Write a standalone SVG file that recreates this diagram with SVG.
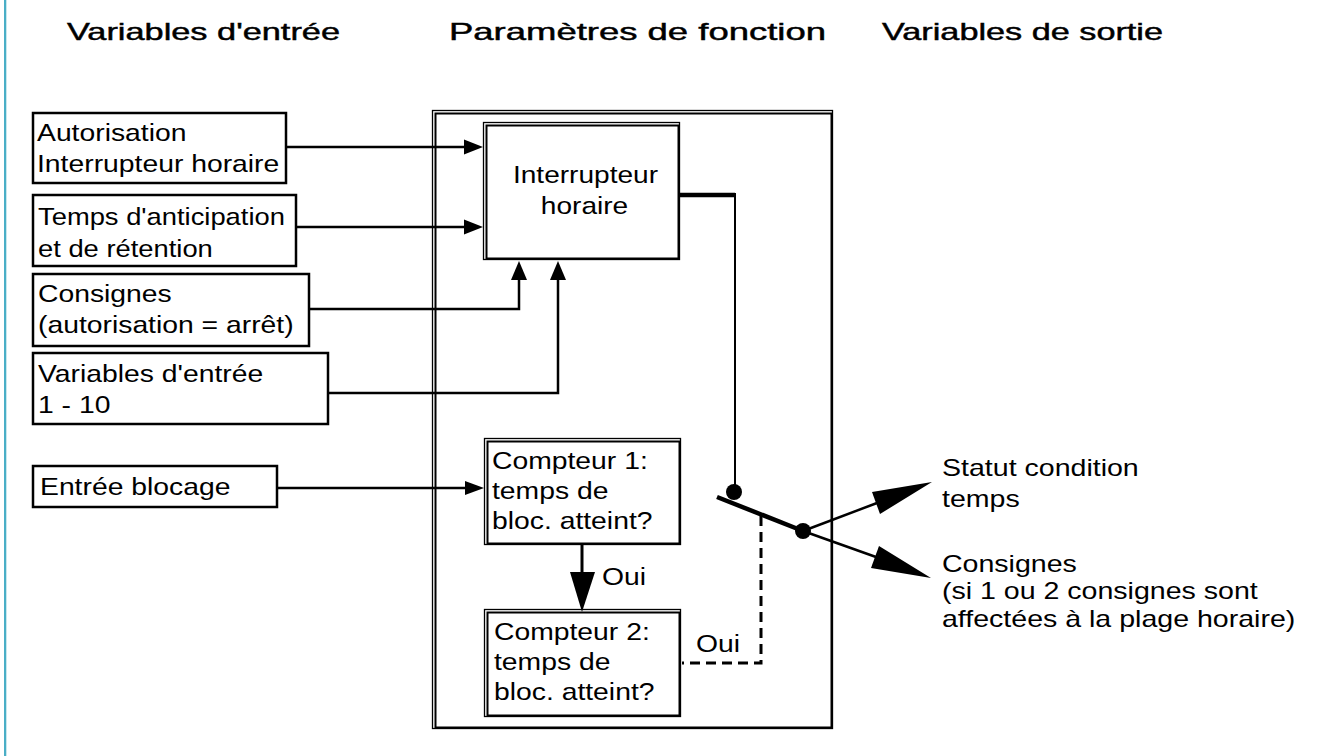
<svg xmlns="http://www.w3.org/2000/svg" width="1327" height="756" viewBox="0 0 1327 756">
<defs>
<style>
.t{font-family:"Liberation Sans",Arial,Helvetica,sans-serif;font-size:24px;fill:#000}
.h{font-family:"Liberation Sans",Arial,Helvetica,sans-serif;font-size:24px;fill:#000;stroke:#000;stroke-width:0.45}
.box{fill:#fff;stroke:#000;stroke-width:2.5}
.o1{fill:none;stroke:#000;stroke-width:1.3}
.o2{fill:none;stroke:#000;stroke-width:2}
.ln{fill:none;stroke:#000;stroke-width:2.5}
.dash{fill:none;stroke:#000;stroke-width:3;stroke-dasharray:10 6}
.ah{fill:#000;stroke:none}
</style>
</defs>
<rect width="1327" height="756" fill="#fff"/>
<rect x="4" y="0" width="2.3" height="756" fill="#4AAEC6"/>

<g id="headings">
<text class="h" x="67" y="40" textLength="273" lengthAdjust="spacingAndGlyphs">Variables d'entrée</text>
<text class="h" x="449" y="40" textLength="377" lengthAdjust="spacingAndGlyphs">Paramètres de fonction</text>
<text class="h" x="882" y="40" textLength="281" lengthAdjust="spacingAndGlyphs">Variables de sortie</text>
</g>

<g id="fonction">
<rect class="o1" x="432.5" y="110.5" width="400" height="618"/>
<rect class="o2" x="435.5" y="113.5" width="396" height="614"/>
</g>

<g id="in1">
<rect class="box" x="33" y="113" width="253" height="70"/>
<text class="t" transform="translate(37,141) scale(1.18,1)">Autorisation</text>
<text class="t" transform="translate(37,172) scale(1.18,1)">Interrupteur horaire</text>
</g>
<g id="in2">
<rect class="box" x="33" y="195" width="263" height="71"/>
<text class="t" transform="translate(38,225) scale(1.14,1)">Temps d'anticipation</text>
<text class="t" transform="translate(38,257) scale(1.14,1)">et de rétention</text>
</g>
<g id="in3">
<rect class="box" x="33" y="274" width="276" height="72"/>
<text class="t" transform="translate(38,302) scale(1.18,1)">Consignes</text>
<text class="t" transform="translate(38,333) scale(1.18,1)">(autorisation = arrêt)</text>
</g>
<g id="in4">
<rect class="box" x="33" y="353" width="295" height="71"/>
<text class="t" transform="translate(38,382) scale(1.18,1)">Variables d'entrée</text>
<text class="t" transform="translate(38,413) scale(1.18,1)">1 - 10</text>
</g>
<g id="in5">
<rect class="box" x="33" y="466" width="244" height="41"/>
<text class="t" transform="translate(40,495) scale(1.18,1)">Entrée blocage</text>
</g>

<g id="interrupteur">
<rect x="483.5" y="122.5" width="196" height="137" fill="#fff" stroke="#000" stroke-width="1.3"/>
<rect class="o2" x="486.5" y="125.5" width="192" height="133"/>
<text class="t" text-anchor="middle" transform="translate(585.5,183) scale(1.17,1)">Interrupteur</text>
<text class="t" text-anchor="middle" transform="translate(584.5,214) scale(1.17,1)">horaire</text>
</g>

<g id="compteur1">
<rect x="484.5" y="438.5" width="196" height="106" fill="#fff" stroke="#000" stroke-width="1.3"/>
<rect class="o2" x="487.5" y="441.5" width="192" height="102"/>
<text class="t" transform="translate(492,469) scale(1.18,1)">Compteur 1:</text>
<text class="t" transform="translate(492,499) scale(1.18,1)">temps de</text>
<text class="t" transform="translate(492,529) scale(1.18,1)">bloc. atteint?</text>
</g>

<g id="compteur2">
<rect x="484.5" y="609.5" width="196" height="107" fill="#fff" stroke="#000" stroke-width="1.3"/>
<rect class="o2" x="487.5" y="612.5" width="192" height="103"/>
<text class="t" transform="translate(494,640) scale(1.18,1)">Compteur 2:</text>
<text class="t" transform="translate(494,670) scale(1.18,1)">temps de</text>
<text class="t" transform="translate(494,700) scale(1.18,1)">bloc. atteint?</text>
</g>

<g id="sorties">
<text class="t" transform="translate(942,476) scale(1.19,1)">Statut condition</text>
<text class="t" transform="translate(942,507) scale(1.19,1)">temps</text>
<text class="t" transform="translate(942,572) scale(1.19,1)">Consignes</text>
<text class="t" transform="translate(942,599) scale(1.19,1)">(si 1 ou 2 consignes sont</text>
<text class="t" transform="translate(942,627) scale(1.19,1)">affectées à la plage horaire)</text>
</g>

<g id="connectors">
<line class="ln" x1="286" y1="147" x2="466" y2="147"/>
<polygon class="ah" points="483,147 464,139.5 464,154.5"/>
<line class="ln" x1="296" y1="227" x2="466" y2="227"/>
<polygon class="ah" points="483,227 464,219.5 464,234.5"/>
<polyline class="ln" points="309,309 519,309 519,278"/>
<polygon class="ah" points="519,261 511,280 527,280"/>
<polyline class="ln" points="328,393 558,393 558,278"/>
<polygon class="ah" points="558,261 550,280 566,280"/>
<line class="ln" x1="277" y1="488" x2="468" y2="488" stroke-width="2"/>
<polygon class="ah" points="484,488 465,481 465,495"/>

<line x1="582" y1="545" x2="582" y2="575" stroke="#000" stroke-width="3"/>
<polygon class="ah" points="582,612 570,572 595,572"/>
<text class="t" transform="translate(602,585) scale(1.18,1)">Oui</text>

<polyline fill="none" stroke="#000" stroke-width="4.5" points="680,195 735,195"/>
<line x1="735" y1="193" x2="735" y2="492" stroke="#000" stroke-width="2"/>
<circle cx="734" cy="492" r="8" fill="#000"/>
<line x1="717" y1="497" x2="803" y2="531" stroke="#000" stroke-width="4.5"/>
<circle cx="803" cy="531" r="8" fill="#000"/>
<line x1="803" y1="531" x2="877" y2="503" stroke="#000" stroke-width="2.5"/>
<polygon class="ah" points="932,482 880,514 872,492"/>
<line x1="803" y1="531" x2="876" y2="557" stroke="#000" stroke-width="2.5"/>
<polygon class="ah" points="931,578 871,568 879,546"/>

<polyline class="dash" points="761,516 761,663 682,663"/>
<text class="t" transform="translate(696,652) scale(1.18,1)">Oui</text>
</g>
</svg>
